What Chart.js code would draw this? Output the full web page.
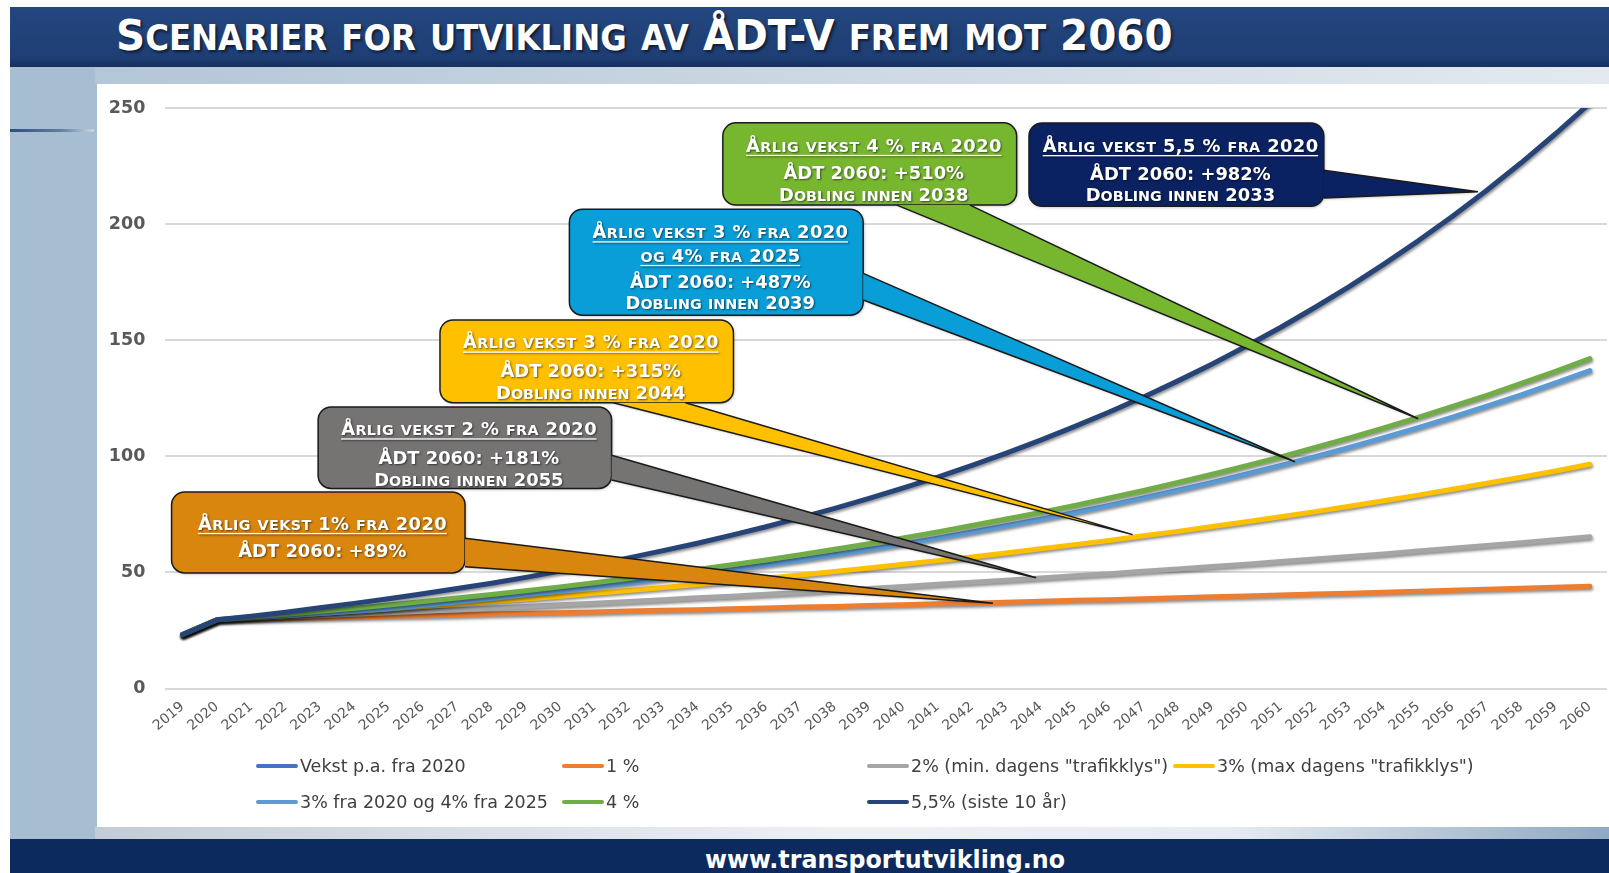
<!DOCTYPE html>
<html>
<head>
<meta charset="utf-8">
<script src="https://cdn.jsdelivr.net/npm/chart.js@4.4.0/dist/chart.umd.min.js"></script>
<style>
  body { margin: 0; width: 1609px; height: 873px; position: relative; overflow: hidden; background: #fff; font-family: 'DejaVu Sans', sans-serif; }
  #titlebar { position: absolute; left: 10px; top: 7px; width: 1599px; height: 60px; background: linear-gradient(#24477f, #1e3e74 85%, #16305c); }
  #titlebar h1 { position: absolute; left: 106px; top: 3px; margin: 0; font: bold 43.5px 'DejaVu Sans'; line-height: normal; color: #fff; white-space: nowrap;
    text-shadow: 2px 2px 3px rgba(0,0,0,0.6); transform: scaleX(0.93); transform-origin: left center; }
  #titlebar h1 span { font-size: 0.8em; }
  #frame { position: absolute; left: 10px; top: 67px; width: 1599px; height: 772px; background: #a6bdd2; }
  #leftline { position: absolute; left: 10px; top: 129px; width: 84px; height: 3px; background: linear-gradient(to right, #2e4f7c, #5f7ea0 60%, #c9d6e2); }
  #topstrip { position: absolute; left: 95px; top: 67px; width: 1514px; height: 17px; background: linear-gradient(to right, #b3c6d7, #c8d5e1 40%, #e3e9ef); }
  #plot { position: absolute; left: 97px; top: 84px; width: 1512px; height: 743px; background: #fff; }
  #botstrip { position: absolute; left: 95px; top: 827px; width: 1514px; height: 12px; background: linear-gradient(to right, #c3ccd6, #eef1f4 50%, #e6ebf0 75%, #8fa9c3); }
  #footer { position: absolute; left: 10px; top: 839px; width: 1599px; height: 34px; background: #0c2a5d; }
  #footer span { position: absolute; left: 875px; top: 3.5px; color: #fff; font: bold 25px 'DejaVu Sans'; line-height: 34px; white-space: nowrap;
    transform: translateX(-50%) scaleX(0.95); }
  .leg { position: absolute; display: flex; align-items: center; font: 17.5px 'DejaVu Sans'; color: #404040; white-space: nowrap; }
  .leg i { display: inline-block; width: 42px; height: 4px; border-radius: 2px; margin-right: 2px; }
</style>
</head>
<body>
<div id="titlebar"><h1 id="title"></h1></div>
<div id="frame"></div>
<div id="leftline"></div>
<div id="topstrip"></div>
<div id="botstrip"></div>
<div id="plot"><canvas id="chart"></canvas></div>
<div id="legend"></div>
<div id="footer"><span>www.transportutvikling.no</span></div>
<script>
// ÅDT-V per year, one array per scenario
var years = ['2019', '2020', '2021', '2022', '2023', '2024', '2025', '2026', '2027', '2028', '2029', '2030',
  '2031', '2032', '2033', '2034', '2035', '2036', '2037', '2038', '2039', '2040', '2041', '2042', '2043', '2044',
  '2045', '2046', '2047', '2048', '2049', '2050', '2051', '2052', '2053', '2054', '2055', '2056', '2057', '2058',
  '2059', '2060'];

var vekst = [23.3, 29.6];
var p1 = [23.3, 29.6, 29.9, 30.2, 30.5, 30.8, 31.1, 31.4, 31.7, 32.1, 32.4, 32.7, 33.0, 33.4, 33.7, 34.0, 34.4,
  34.7, 35.1, 35.4, 35.8, 36.1, 36.5, 36.8, 37.2, 37.6, 38.0, 38.3, 38.7, 39.1, 39.5, 39.9, 40.3, 40.7, 41.1,
  41.5, 41.9, 42.4, 42.8, 43.2, 43.6, 44.1];
var p2 = [23.3, 29.6, 30.2, 30.8, 31.4, 32.0, 32.7, 33.3, 34.0, 34.7, 35.4, 36.1, 36.8, 37.5, 38.3, 39.1, 39.8,
  40.6, 41.4, 42.3, 43.1, 44.0, 44.9, 45.8, 46.7, 47.6, 48.6, 49.5, 50.5, 51.5, 52.6, 53.6, 54.7, 55.8, 56.9,
  58.0, 59.2, 60.4, 61.6, 62.8, 64.1, 65.4];
var p3 = [23.3, 29.6, 30.5, 31.4, 32.3, 33.3, 34.3, 35.3, 36.4, 37.5, 38.6, 39.8, 41.0, 42.2, 43.5, 44.8, 46.1,
  47.5, 48.9, 50.4, 51.9, 53.5, 55.1, 56.7, 58.4, 60.2, 62.0, 63.8, 65.8, 67.7, 69.8, 71.8, 74.0, 76.2, 78.5,
  80.9, 83.3, 85.8, 88.4, 91.0, 93.7, 96.6];
var p3p4 = [23.3, 29.6, 30.5, 31.4, 32.3, 33.3, 34.4, 35.8, 37.3, 38.8, 40.4, 42.0, 43.7, 45.5, 47.3, 49.2, 51.2,
  53.3, 55.4, 57.6, 59.9, 62.3, 64.8, 67.4, 70.1, 72.9, 75.8, 78.9, 82.1, 85.4, 88.8, 92.4, 96.1, 99.9, 103.9,
  108.1, 112.4, 116.9, 121.6, 126.5, 131.6, 136.9];
var p4 = [23.3, 29.6, 30.8, 32.0, 33.3, 34.6, 36.0, 37.5, 39.0, 40.5, 42.1, 43.8, 45.6, 47.4, 49.3, 51.3, 53.3,
  55.4, 57.7, 60.0, 62.4, 64.9, 67.5, 70.2, 73.0, 75.9, 78.9, 82.1, 85.3, 88.8, 92.3, 96.0, 99.8, 103.8, 108.0,
  112.3, 116.8, 121.5, 126.3, 131.4, 136.6, 142.1];
var p55 = [23.3, 29.6, 31.2, 32.9, 34.8, 36.7, 38.7, 40.8, 43.1, 45.4, 47.9, 50.6, 53.3, 56.3, 59.4, 62.6, 66.1,
  69.7, 73.6, 77.6, 81.9, 86.4, 91.1, 96.1, 101.4, 107.0, 112.9, 119.1, 125.6, 132.5, 139.8, 147.5, 155.6, 164.2,
  173.2, 182.8, 192.8, 203.4, 214.6, 226.4, 238.9, 252.0];

var names = ['Vekst p.a. fra 2020', '1 %', '2% (min. dagens "trafikklys")', '3% (max dagens "trafikklys")',
  '3% fra 2020 og 4% fra 2025', '4 %', '5,5% (siste 10 år)'];
var colors = ['#4472C4', '#ED7D31', '#A5A5A5', '#FFC000', '#5B9BD5', '#70AD47', '#264478'];
var yTicks = [0, 50, 100, 150, 200, 250];

// callout boxes, in category index / value units
var callouts = [
  { fill: '#D9860F', box: [-0.32, 84.7, 8.23, 49.8], tail: [[8.23, 64.7], [8.23, 52.5], [23.61, 36.7]],
    lines: [['Årlig vekst 1% fra 2020', 1, 31.6], ['ÅDT 2060: +89%', 0, 59]] },
  { fill: '#767373', box: [3.95, 121.3, 12.5, 86.2], tail: [[12.5, 100.5], [12.5, 89.8], [24.87, 47.7]],
    lines: [['Årlig vekst 2 % fra 2020', 1, 22], ['ÅDT 2060: +181%', 0, 51], ['Dobling innen 2055', 0, 72.5]] },
  { fill: '#FFC000', box: [7.5, 158.7, 16.05, 123.1], tail: [[12.55, 123.1], [14.65, 123.1], [27.68, 66.3]],
    lines: [['Årlig vekst 3 % fra 2020', 1, 22], ['ÅDT 2060: +315%', 0, 51], ['Dobling innen 2044', 0, 72.5]] },
  { fill: '#0A9ED8', box: [11.27, 206.4, 19.83, 160.8], tail: [[19.83, 178.8], [19.83, 167.3], [32.41, 97.7]],
    lines: [['Årlig vekst 3 % fra 2020', 1, 22.6], ['og 4% fra 2025', 1, 46.2], ['ÅDT 2060: +487%', 0, 72],
      ['Dobling innen 2039', 0, 93.5]] },
  { fill: '#77B72F', box: [15.74, 243.6, 24.3, 208.2], tail: [[20.81, 208.2], [22.94, 208.2], [36.0, 116.2]],
    lines: [['Årlig vekst 4 % fra 2020', 1, 22.5], ['ÅDT 2060: +510%', 0, 50], ['Dobling innen 2038', 0, 71.5]] },
  { fill: '#0B2262', box: [24.66, 243.5, 33.25, 207.7], tail: [[33.25, 223.2], [33.25, 211.2], [37.74, 213.9]],
    lines: [['Årlig vekst 5,5 % fra 2020', 1, 22.5], ['ÅDT 2060: +982%', 0, 50], ['Dobling innen 2033', 0, 71.5]] }
];

function scHTML(text) {
  var out = '';
  for (var ch of text) {
    if (ch !== ch.toUpperCase()) out += '<span>' + ch.toUpperCase() + '</span>';
    else out += ch;
  }
  return out;
}
document.getElementById('title').innerHTML = scHTML('Scenarier for utvikling av ÅDT-V frem mot 2060');

// legend, Excel style grid
var legPos = [[256, 766], [562, 766], [867, 766], [1173, 766], [256, 802], [562, 802], [867, 802]];
var legHtml = '';
names.forEach(function (n, i) {
  legHtml += '<div class="leg" style="left:' + legPos[i][0] + 'px;top:' + (legPos[i][1] - 11) + 'px;height:22px">' +
    '<i style="background:' + colors[i] + '"></i>' + n.replace(/"/g, '&quot;') + '</div>';
});
document.getElementById('legend').innerHTML = legHtml;

function drawSmallCaps(ctx, text, cx, cy, size, underline) {
  var parts = [];
  var gap = underline ? 0.4 : 0;
  var w = 0;
  for (var ch of text) {
    var low = ch !== ch.toUpperCase();
    var s = low ? size * 0.8 : size;
    ctx.font = 'bold ' + s + 'px "DejaVu Sans"';
    var cw = ctx.measureText(ch.toUpperCase()).width + gap;
    parts.push({ c: ch.toUpperCase(), s: s, w: cw });
    w += cw;
  }
  w -= gap;
  var x = cx - w / 2;
  var base = cy + size * 0.36;
  parts.forEach(function (p) {
    ctx.font = 'bold ' + p.s + 'px "DejaVu Sans"';
    ctx.fillText(p.c, x, base);
    x += p.w;
  });
  if (underline) {
    ctx.fillRect(cx - w / 2, base + 3, w, 1.3);
  }
}

var shadowPlugin = {
  id: 'lineShadow',
  beforeDatasetDraw: function (chart) {
    var ctx = chart.ctx;
    ctx.save();
    ctx.shadowColor = 'rgba(0,0,0,0.45)';
    ctx.shadowBlur = 3;
    ctx.shadowOffsetX = 1;
    ctx.shadowOffsetY = 2;
  },
  afterDatasetDraw: function (chart) {
    chart.ctx.restore();
  }
};

function tailPath(ctx, t, close) {
  ctx.beginPath();
  ctx.moveTo(t[0][0], t[0][1]);
  ctx.lineTo(t[2][0], t[2][1]);
  ctx.lineTo(t[1][0], t[1][1]);
  if (close) ctx.closePath();
}

var calloutPlugin = {
  id: 'callouts',
  afterDatasetsDraw: function (chart) {
    var ctx = chart.ctx;
    var xs = chart.scales.x, ys = chart.scales.y;
    function px(p) { return [xs.getPixelForValue(p[0]), ys.getPixelForValue(p[1])]; }
    callouts.forEach(function (c) {
      var a = px([c.box[0], c.box[1]]), b = px([c.box[2], c.box[3]]);
      var t = c.tail.map(px);
      ctx.save();
      ctx.fillStyle = c.fill;
      ctx.strokeStyle = '#1b1b1b';
      ctx.lineWidth = 1.5;
      ctx.shadowColor = 'rgba(0,0,0,0.3)';
      ctx.shadowBlur = 3;
      ctx.shadowOffsetX = 1;
      ctx.shadowOffsetY = 1;
      tailPath(ctx, t, true);
      ctx.fill();
      ctx.beginPath();
      ctx.roundRect(a[0], a[1], b[0] - a[0], b[1] - a[1], 13);
      ctx.fill();
      ctx.shadowColor = 'transparent';
      ctx.stroke();
      // cover the box border where the tail joins
      tailPath(ctx, t, true);
      ctx.fill();
      tailPath(ctx, t, false);
      ctx.stroke();
      ctx.fillStyle = '#fff';
      ctx.shadowColor = 'rgba(0,0,0,0.55)';
      ctx.shadowBlur = 2;
      ctx.shadowOffsetX = 1;
      ctx.shadowOffsetY = 1;
      var cx = (a[0] + b[0]) / 2 + 4;
      c.lines.forEach(function (l) {
        drawSmallCaps(ctx, l[0], cx, a[1] + l[2], 17.9, l[1]);
      });
      ctx.restore();
    });
  }
};

var series = [vekst, p1, p2, p3, p3p4, p4, p55];
var datasets = series.map(function (d, i) {
  return {
    label: names[i],
    data: d,
    borderColor: colors[i],
    backgroundColor: colors[i],
    borderWidth: 5,
    borderCapStyle: 'round',
    borderJoinStyle: 'round',
    pointRadius: 0,
    fill: false,
    order: series.length - i
  };
});

var ctx = document.getElementById('chart').getContext('2d');
var chart = new Chart(ctx, {
  type: 'line',
  data: { labels: years, datasets: datasets },
  options: {
    responsive: true,
    maintainAspectRatio: false,
    animation: false,
    layout: { padding: { top: 24, right: 2, left: 0, bottom: 0 } },
    plugins: { legend: { display: false }, tooltip: { enabled: false } },
    scales: {
      x: {
        offset: true,
        grid: { display: false },
        border: { display: false },
        afterFit: function (s) { s.height = 138.4; },
        ticks: { autoSkip: false, minRotation: 40, maxRotation: 40, padding: 2, color: '#595959',
          font: { family: 'DejaVu Sans', size: 14 } }
      },
      y: {
        min: 0,
        max: 250,
        afterFit: function (s) { s.width = 68.4; },
        afterBuildTicks: function (s) { s.ticks = yTicks.map(function (v) { return { value: v }; }); },
        grid: { color: '#d9d9d9', lineWidth: 2, drawTicks: true, tickLength: 20, tickColor: 'transparent' },
        border: { display: false },
        ticks: { padding: 0, color: '#595959', font: { family: 'DejaVu Sans', size: 17.5, weight: 'bold' } }
      }
    }
  },
  plugins: [shadowPlugin, calloutPlugin]
});
</script>
</body>
</html>
